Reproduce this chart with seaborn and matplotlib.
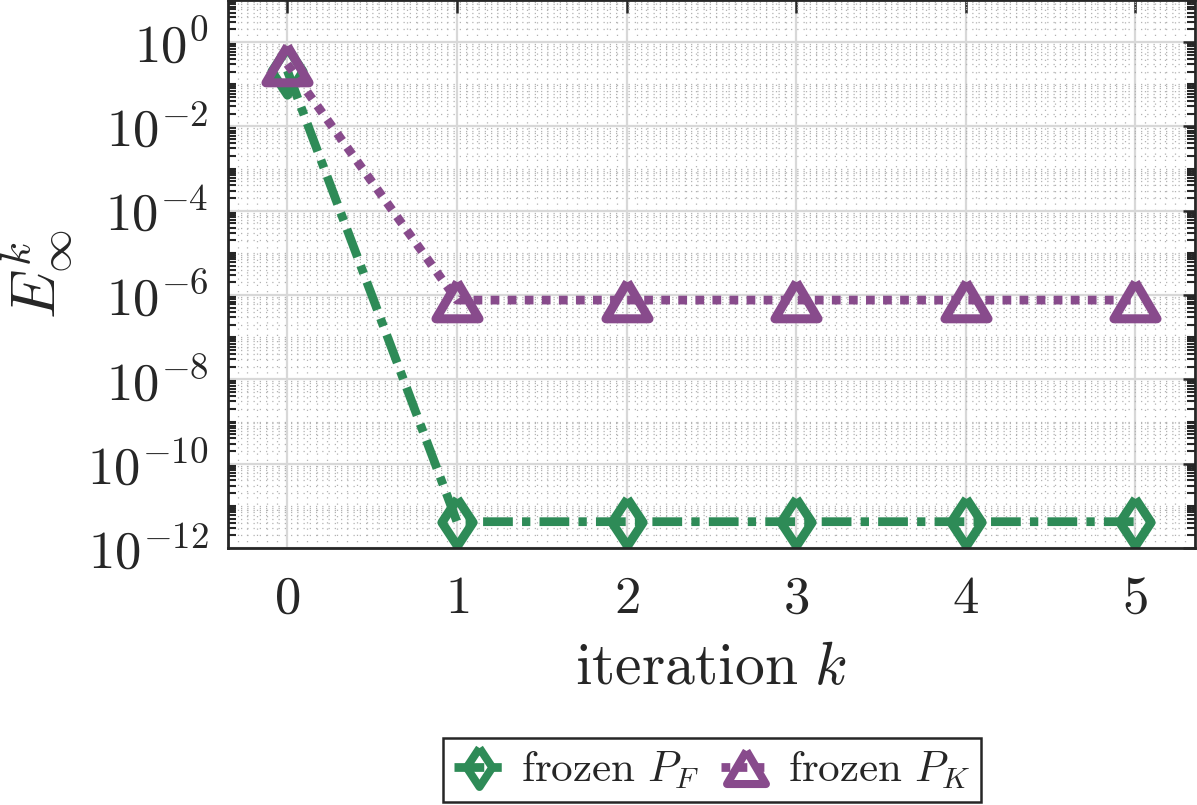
import numpy as np
import pandas as pd
import matplotlib
matplotlib.use("Agg")
import matplotlib.pyplot as plt
import seaborn as sns
from matplotlib import ticker

# data
k = [0, 1, 2, 3, 4, 5]
err_frozen_PF = [0.21, 4.2e-12, 4.2e-12, 4.2e-12, 4.2e-12, 4.2e-12]
err_frozen_PK = [0.30, 7.6e-7, 7.6e-7, 7.6e-7, 7.6e-7, 7.6e-7]
xtick_vals = [0, 1, 2, 3, 4, 5]
xtick_labels = ['$0$', '$1$', '$2$', '$3$', '$4$', '$5$']
ytick_vals = [1e0, 1e-2, 1e-4, 1e-6, 1e-8, 1e-10, 1e-12]
ytick_labels = ['$10^{0}$', '$10^{-2}$', '$10^{-4}$', '$10^{-6}$', '$10^{-8}$', '$10^{-10}$', '$10^{-12}$']
labels = [r'$\mathrm{frozen}\ P_F$', r'$\mathrm{frozen}\ P_K$']

green = '#2e8b57'
purple = '#884b8c'

sns.set_style('white')
plt.rcParams['font.family'] = ['DejaVu Serif']
plt.rcParams['mathtext.fontset'] = 'cm'

df = pd.DataFrame({'k': k, 'PF': err_frozen_PF, 'PK': err_frozen_PK})

fig = plt.figure(figsize=(11.97, 8.05), dpi=100)
ax = fig.add_axes([0.1905, 0.3193, 0.8075, 0.6807])

diamond = [(0, 1), (0.66, 0), (0, -1), (-0.66, 0), (0, 1)]
triangle = [(0, 0.85), (1, -0.85), (-1, -0.85), (0, 0.85)]

sns.lineplot(data=df, x='k', y='PF', ax=ax, color=green, lw=6.3,
             marker=diamond, markersize=34, markeredgewidth=6.5,
             markerfacecolor='none', markeredgecolor=green, label=labels[0])
ax.lines[-1].set_linestyle((0, (3.4, 1.05, 0.95, 1.05)))
ax.lines[-1].set_dash_capstyle('butt')
sns.lineplot(data=df, x='k', y='PK', ax=ax, color=purple, lw=6.3,
             marker=triangle, markersize=31, markeredgewidth=6.5,
             markerfacecolor='none', markeredgecolor=purple, label=labels[1])
ax.lines[-1].set_linestyle((0, (1.0, 0.95)))
ax.lines[-1].set_dash_capstyle('butt')

ax.set_yscale('log')
ax.set_xlim(-0.35, 5.35)
ax.set_ylim(1e-12, 1e1)

ax.xaxis.set_major_locator(ticker.FixedLocator(xtick_vals))
ax.xaxis.set_major_formatter(ticker.FixedFormatter(xtick_labels))
ax.xaxis.set_minor_locator(ticker.AutoMinorLocator(17))
ax.yaxis.set_major_locator(ticker.FixedLocator(ytick_vals))
ax.yaxis.set_major_formatter(ticker.FixedFormatter(ytick_labels))
ax.yaxis.set_minor_locator(ticker.LogLocator(base=10, subs=np.arange(1, 10), numticks=30))
ax.yaxis.set_minor_formatter(ticker.NullFormatter())

ax.grid(True, which='major', color='#d8d8d8', lw=1.6, ls='-')
ax.grid(True, which='minor', color='#b3b3b3', lw=0.9, ls=(0, (1, 4)))
ax.set_axisbelow(True)

ax.tick_params(axis='both', which='major', direction='in', length=9, width=1.8,
               color='#262626', labelsize=38, top=True, right=True)
ax.tick_params(axis='y', which='minor', direction='in', length=6, width=1.5,
               color='#262626', left=True, right=True)
ax.tick_params(axis='x', which='minor', length=0)
ax.tick_params(axis='x', which='major', pad=18)
ax.tick_params(axis='y', which='major', pad=14)

for s in ax.spines.values():
    s.set_color('#262626')
    s.set_linewidth(2.0)

ax.set_xlabel(r'$\mathrm{iteration}\ k$', fontsize=43, labelpad=10)
ax.set_ylabel(r'$E^{k}_{\infty}$', fontsize=45, labelpad=9)

ax.get_legend().remove()
h, l = ax.get_legend_handles_labels()
leg = fig.legend(h, l, loc='center', bbox_to_anchor=(0.595, 0.0435), ncol=2,
                 fontsize=31, frameon=True, fancybox=False, framealpha=1,
                 edgecolor='#262626', handlelength=1.15, columnspacing=0.5,
                 handletextpad=0.4, borderpad=0.25, borderaxespad=0)
leg.get_frame().set_linewidth(1.8)
for lh in leg.get_lines():
    lh.set_markersize(28)
    lh.set_markeredgewidth(5.8)

fig.savefig('out.png', dpi=100)
